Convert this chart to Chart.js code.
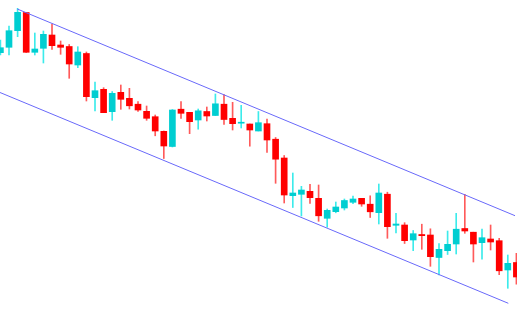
<!DOCTYPE html>
<html>
<head>
<meta charset="utf-8">
<script src="https://cdn.jsdelivr.net/npm/chart.js@4/dist/chart.umd.min.js"></script>
<style>
  html, body { margin: 0; padding: 0; background: #ffffff; }
  #wrap { width: 529px; height: 313px; position: relative; }
</style>
</head>
<body>
<div id="wrap"><canvas id="c"></canvas></div>
<script>
// Candle OHLC values (price levels, arbitrary units)
const openVals  = [260.3,265.7,282.3,300.5,260.7,264.7,278.0,268.0,266.5,248.0,259.5,215.3,223.7,201.3,220.7,214.7,208.8,201.7,196.3,181.7,166.5,203.8,200.7,193.0,201.5,197.5,208.8,194.7,189.8,189.0,182.0,189.3,173.8,155.0,117.3,118.7,121.7,114.7,94.7,101.3,105.0,110.7,114.7,108.8,100.3,118.8,87.7,88.0,73.0,78.5,78.0,55.5,62.3,69.0,84.5,80.8,70.3,74.0,72.3,43.0,50.5];
const highVals  = [273.0,287.0,304.7,300.7,280.0,282.0,289.0,272.0,268.5,266.3,261.0,231.0,225.3,221.5,228.0,224.7,211.3,207.0,198.0,182.0,203.5,211.3,200.7,204.0,206.0,219.0,218.5,210.7,207.7,189.0,201.5,194.0,175.5,157.5,140.0,126.7,128.7,128.0,104.0,111.0,114.0,117.0,114.7,117.2,129.0,120.8,99.7,90.3,82.5,88.8,84.2,69.5,82.0,99.7,118.7,80.8,84.0,88.0,74.7,58.0,59.7];
const lowVals   = [258.0,258.0,276.3,260.5,258.0,250.0,263.5,258.7,234.7,245.3,212.0,202.0,200.3,192.7,203.7,204.0,201.5,192.7,177.2,154.5,166.0,194.7,179.3,183.8,192.0,197.3,188.7,183.0,185.0,166.8,182.0,160.7,129.7,110.0,105.5,97.0,109.7,91.7,85.8,100.2,103.0,109.3,106.7,95.5,89.0,74.7,80.0,69.5,62.3,63.7,46.7,38.0,58.5,59.0,79.7,51.0,53.8,63.0,38.3,24.7,28.8];
const closeVals = [265.3,282.3,300.7,260.7,264.0,278.7,267.3,265.7,249.0,261.0,216.3,222.3,200.3,219.7,213.7,207.2,203.0,194.7,182.0,167.0,203.0,199.7,191.3,202.2,197.0,209.2,193.5,189.3,190.8,183.0,190.3,173.0,153.8,118.0,120.0,123.0,115.3,97.2,102.7,106.0,112.5,114.0,109.0,101.2,120.0,86.3,89.0,72.3,79.3,77.3,56.3,63.7,68.7,83.8,82.0,69.0,75.3,71.0,42.2,49.7,36.0];

// Channel lines: [candle index, price level] at each end
const upperChannel = [[1.965, 304.0], [59.84, 97.3]];
const lowerChannel = [[-0.047, 220.5], [59.06, 9.7]];

const upCol = 'rgb(0,206,209)';
const downCol = 'rgb(255,0,0)';
const upWick = 'rgb(60,235,235)';
const downWick = 'rgb(255,90,90)';

const idx = openVals.map((_, i) => i);
const isUp = idx.map(i => closeVals[i] >= openVals[i]);

const bodies = idx.map(i => ({ x: i, y: [openVals[i], closeVals[i]] }));
const wicks = idx.map(i => ({ x: i, y: [lowVals[i], highVals[i]] }));

new Chart(document.getElementById('c'), {
  type: 'bar',
  data: {
    datasets: [
      {
        type: 'line',
        data: upperChannel.map(p => ({ x: p[0], y: p[1] })),
        borderColor: 'rgb(105,105,250)',
        borderWidth: 1,
        pointRadius: 0,
        tension: 0,
        order: 0
      },
      {
        type: 'line',
        data: lowerChannel.map(p => ({ x: p[0], y: p[1] })),
        borderColor: 'rgb(105,105,250)',
        borderWidth: 1,
        pointRadius: 0,
        tension: 0,
        order: 0
      },
      {
        data: bodies,
        backgroundColor: idx.map(i => isUp[i] ? upCol : downCol),
        borderWidth: 0,
        barThickness: 6,
        grouped: false,
        order: 1
      },
      {
        data: wicks,
        backgroundColor: idx.map(i => isUp[i] ? upWick : downWick),
        borderWidth: 0,
        barThickness: 1,
        grouped: false,
        order: 2
      }
    ]
  },
  options: {
    responsive: true,
    maintainAspectRatio: false,
    animation: false,
    layout: { padding: { left: 0, right: 12, top: 0, bottom: 0 } },
    plugins: { legend: { display: false }, tooltip: { enabled: false } },
    scales: {
      x: { type: 'linear', min: -0.047, max: 60.07, bounds: 'data', offset: false, display: false, grid: { display: false } },
      y: { type: 'linear', min: 0, max: 313, bounds: 'data', display: false, grid: { display: false } }
    }
  }
});
</script>
</body>
</html>
